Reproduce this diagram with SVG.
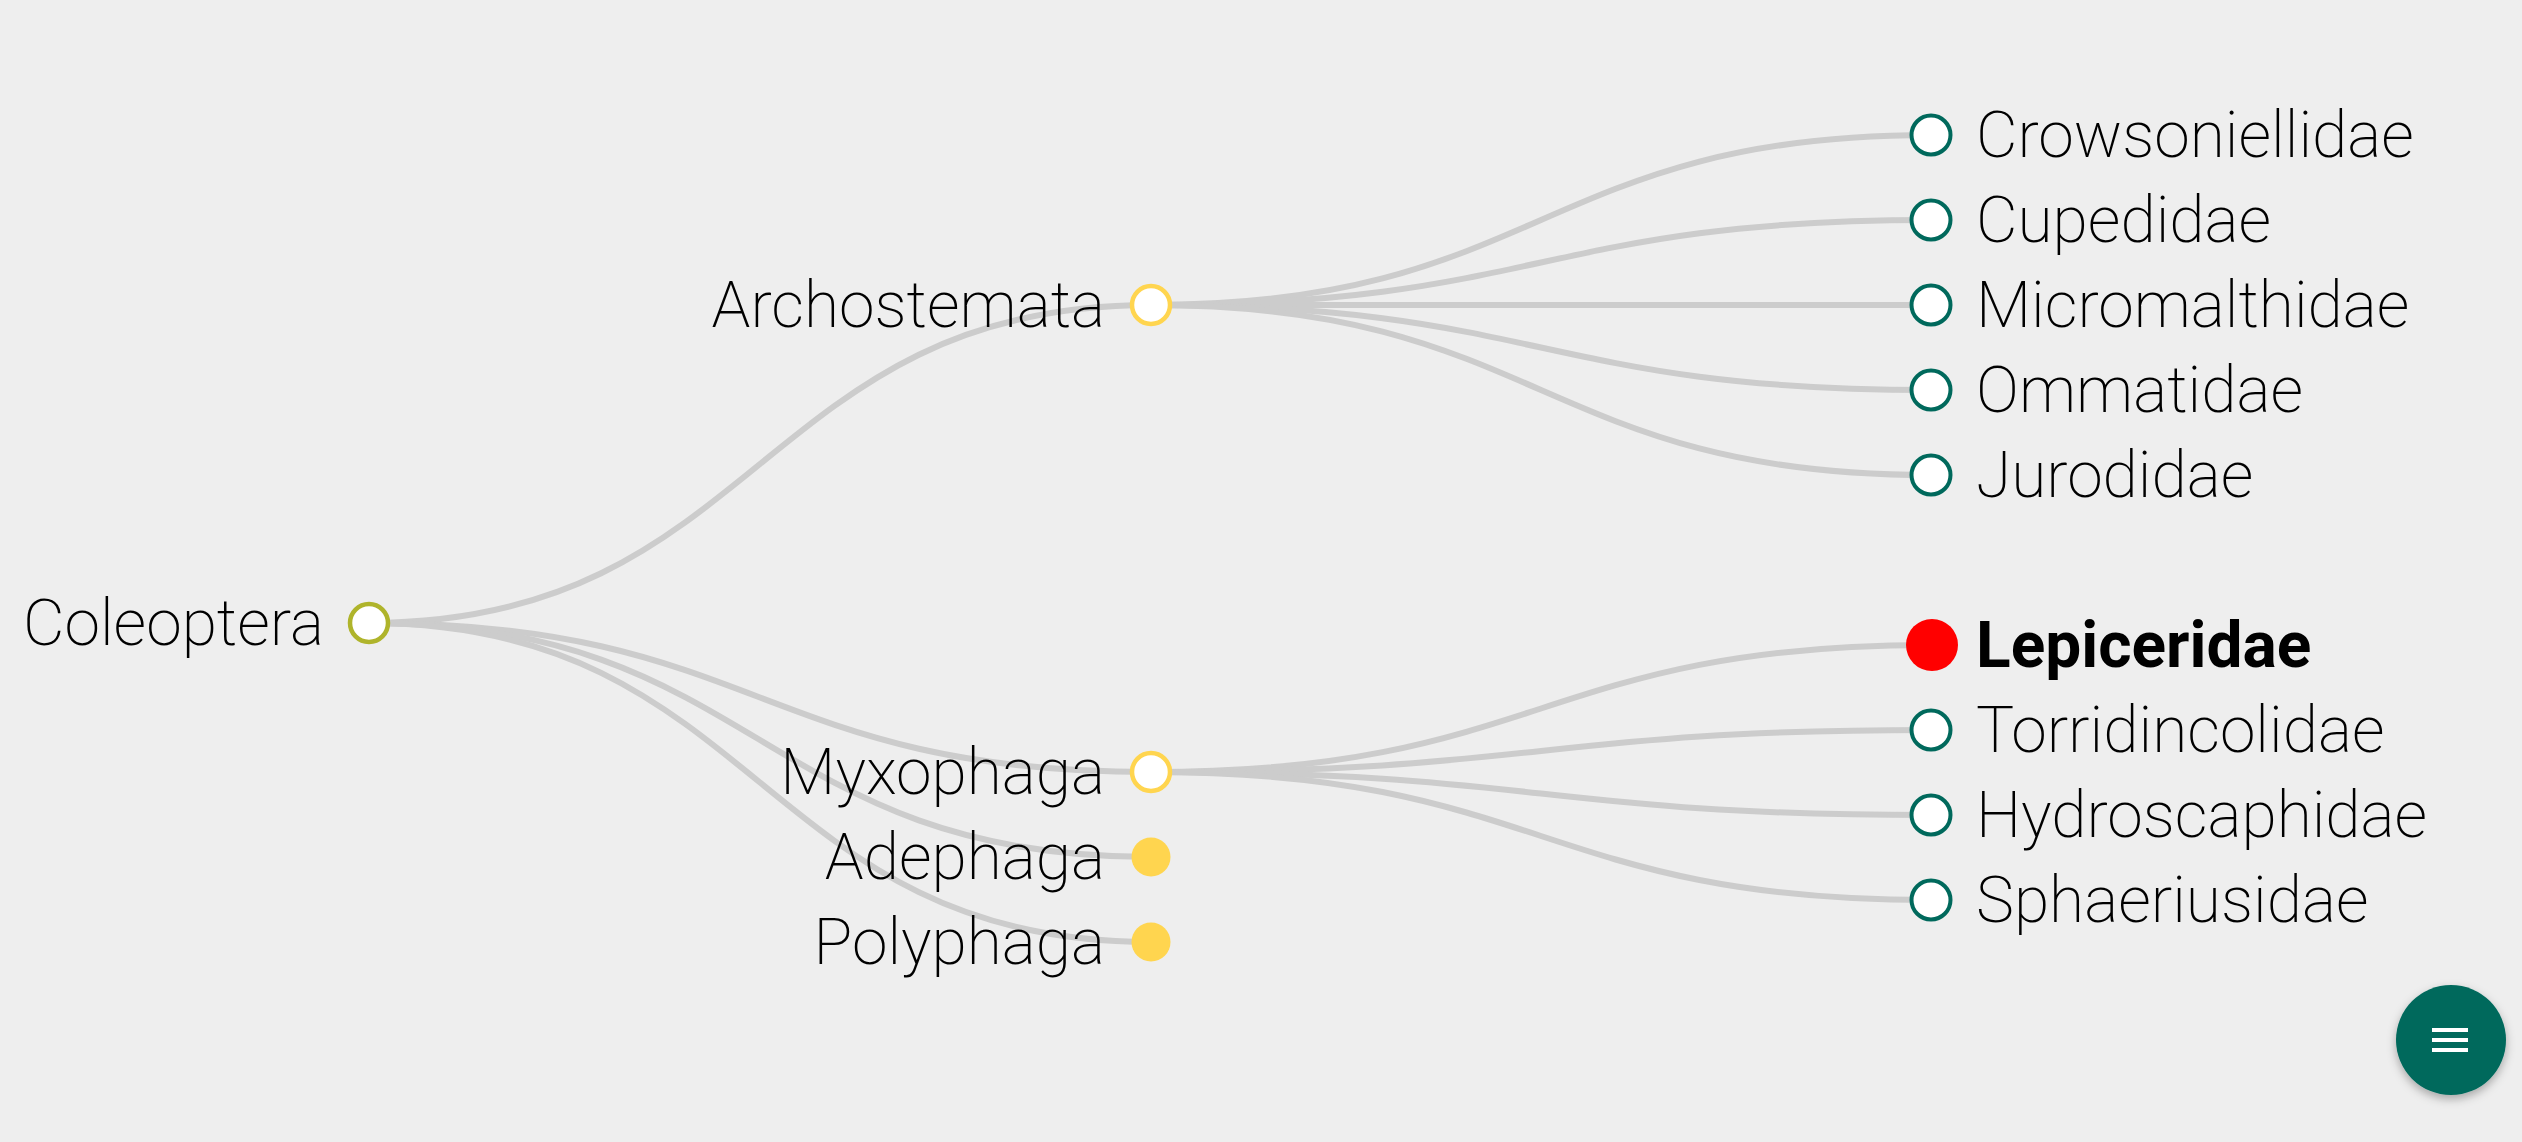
<svg xmlns="http://www.w3.org/2000/svg" width="2522" height="1142" viewBox="0 0 2522 1142">
<defs>
<style>
.lbl{font-family:Roboto,"Liberation Sans",sans-serif;font-weight:200;font-size:64px;fill:#000}
.l{text-anchor:end}
.r{text-anchor:start}
.bold{font-weight:700}
.link{fill:none;stroke:#cccccc;stroke-width:6}
.root{fill:#fff;stroke:#afb42b;stroke-width:4.5}
.mid{fill:#fff;stroke:#ffd54f;stroke-width:4.5}
.midf{fill:#ffd54f}
.leaf{fill:#fff;stroke:#00695c;stroke-width:4}
</style>
<filter id="sh" x="-50%" y="-50%" width="200%" height="200%">
<feDropShadow dx="0" dy="4" stdDeviation="5" flood-color="#000" flood-opacity="0.3"/>
</filter>
</defs>
<rect width="2522" height="1142" fill="#eeeeee"/>
<g id="links">
<path class="link" d="M369,623C760,623 760,305 1151,305"/>
<path class="link" d="M369,623C760,623 760,772 1151,772"/>
<path class="link" d="M369,623C760,623 760,857 1151,857"/>
<path class="link" d="M369,623C760,623 760,942 1151,942"/>
<path class="link" d="M1151,305C1541,305 1541,135 1931,135"/>
<path class="link" d="M1151,305C1541,305 1541,220 1931,220"/>
<path class="link" d="M1151,305C1541,305 1541,305 1931,305"/>
<path class="link" d="M1151,305C1541,305 1541,390 1931,390"/>
<path class="link" d="M1151,305C1541,305 1541,475 1931,475"/>
<path class="link" d="M1151,772C1541,772 1541,645 1931,645"/>
<path class="link" d="M1151,772C1541,772 1541,730 1931,730"/>
<path class="link" d="M1151,772C1541,772 1541,815 1931,815"/>
<path class="link" d="M1151,772C1541,772 1541,900 1931,900"/>
</g>
<g id="coleoptera"><circle class="root" cx="369" cy="623" r="19"/><text class="lbl l" x="324" y="645">Coleoptera</text></g>
<g id="archostemata"><circle class="mid" cx="1151" cy="305" r="19"/><text class="lbl l" x="1105" y="327">Archostemata</text></g>
<g id="myxophaga"><circle class="mid" cx="1151" cy="772" r="19"/><text class="lbl l" x="1105" y="794">Myxophaga</text></g>
<g id="adephaga"><circle class="midf" cx="1151" cy="857" r="19.5"/><text class="lbl l" x="1105" y="879">Adephaga</text></g>
<g id="polyphaga"><circle class="midf" cx="1151" cy="942" r="19.5"/><text class="lbl l" x="1105" y="964">Polyphaga</text></g>
<g id="crowsoniellidae"><circle class="leaf" cx="1931" cy="135" r="19.5"/><text class="lbl r" x="1976" y="157">Crowsoniellidae</text></g>
<g id="cupedidae"><circle class="leaf" cx="1931" cy="220" r="19.5"/><text class="lbl r" x="1976" y="242">Cupedidae</text></g>
<g id="micromalthidae"><circle class="leaf" cx="1931" cy="305" r="19.5"/><text class="lbl r" x="1976" y="327">Micromalthidae</text></g>
<g id="ommatidae"><circle class="leaf" cx="1931" cy="390" r="19.5"/><text class="lbl r" x="1976" y="412">Ommatidae</text></g>
<g id="jurodidae"><circle class="leaf" cx="1931" cy="475" r="19.5"/><text class="lbl r" x="1976" y="497">Jurodidae</text></g>
<g id="lepiceridae"><circle cx="1932" cy="645" r="26" fill="#ff0000"/><text class="lbl r bold" x="1976" y="667">Lepiceridae</text></g>
<g id="torridincolidae"><circle class="leaf" cx="1931" cy="730" r="19.5"/><text class="lbl r" x="1976" y="752">Torridincolidae</text></g>
<g id="hydroscaphidae"><circle class="leaf" cx="1931" cy="815" r="19.5"/><text class="lbl r" x="1976" y="837">Hydroscaphidae</text></g>
<g id="sphaeriusidae"><circle class="leaf" cx="1931" cy="900" r="19.5"/><text class="lbl r" x="1976" y="922">Sphaeriusidae</text></g>
<g id="menu-button">
<circle cx="2451" cy="1040" r="55" fill="#00695c" filter="url(#sh)"/>
<rect x="2432" y="1028" width="36" height="4" fill="#fff"/>
<rect x="2432" y="1038" width="36" height="4" fill="#fff"/>
<rect x="2432" y="1048" width="36" height="4" fill="#fff"/>
</g>
</svg>
